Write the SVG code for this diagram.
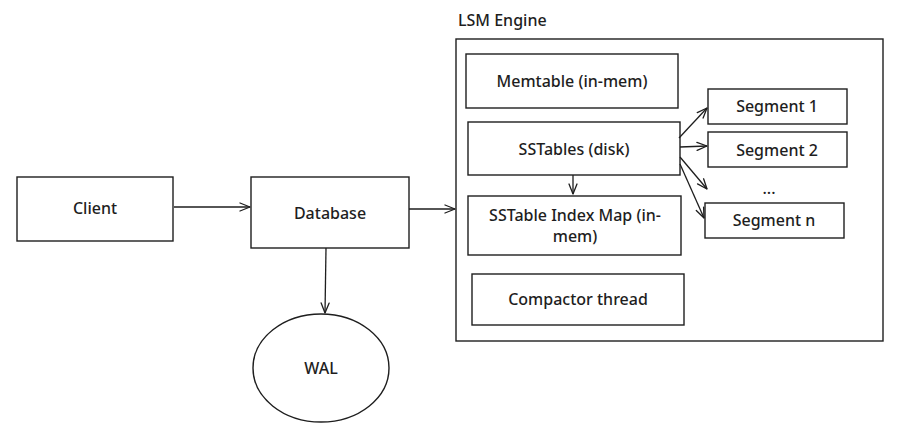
<svg xmlns="http://www.w3.org/2000/svg" width="901" height="436" viewBox="0 0 901 436">
<defs>
<marker id="ah" viewBox="0 0 12 10" refX="11" refY="5" markerWidth="12" markerHeight="10" markerUnits="userSpaceOnUse" orient="auto">
<path d="M1,1 L11,5 L1,9" fill="none" stroke="#1e1e1e" stroke-width="1.3" stroke-linecap="round" stroke-linejoin="round"/>
</marker>
</defs>
<style>
.box{fill:none;stroke:#1e1e1e;stroke-width:1.4}
.t{font-family:"Noto Sans","Open Sans",sans-serif;font-size:16px;font-weight:500;fill:#1e1e1e;text-anchor:middle;dominant-baseline:central}
.c{fill:none;stroke:#1e1e1e;stroke-width:1.3;marker-end:url(#ah)}
</style>
<rect width="901" height="436" fill="#ffffff"/>
<g id="lsm-engine">
<rect class="box" x="456" y="39" width="427" height="302"/>
<text class="t" x="458" y="20" style="text-anchor:start">LSM Engine</text>
</g>
<g id="client">
<rect class="box" x="17" y="177" width="156" height="64"/>
<text class="t" x="95" y="208">Client</text>
</g>
<g id="database">
<rect class="box" x="251" y="177" width="158" height="71"/>
<text class="t" x="330" y="213">Database</text>
</g>
<g id="wal">
<ellipse class="box" cx="321" cy="368" rx="68" ry="54"/>
<text class="t" x="321" y="368">WAL</text>
</g>
<g id="memtable">
<rect class="box" x="466" y="54" width="212" height="54"/>
<text class="t" x="572" y="81">Memtable (in-mem)</text>
</g>
<g id="sstables">
<rect class="box" x="468" y="122" width="212" height="53"/>
<text class="t" x="574" y="149">SSTables (disk)</text>
</g>
<g id="index-map">
<rect class="box" x="468" y="196" width="213" height="59"/>
<text class="t" x="575" y="215">SSTable Index Map (in-</text>
<text class="t" x="575" y="236">mem)</text>
</g>
<g id="compactor">
<rect class="box" x="472" y="274" width="212" height="51"/>
<text class="t" x="578" y="299">Compactor thread</text>
</g>
<g id="segment-1">
<rect class="box" x="708" y="89" width="139" height="35"/>
<text class="t" x="777" y="106">Segment 1</text>
</g>
<g id="segment-2">
<rect class="box" x="708" y="132" width="139" height="35"/>
<text class="t" x="777" y="150">Segment 2</text>
</g>
<g id="ellipsis">
<text class="t" x="769" y="188">...</text>
</g>
<g id="segment-n">
<rect class="box" x="705" y="203" width="139" height="35"/>
<text class="t" x="774" y="220">Segment n</text>
</g>
<g id="connectors">
<path class="c" d="M174,207 L250,207"/>
<path class="c" d="M409,209 L455,209"/>
<path class="c" d="M326,248 L325,313"/>
<path class="c" d="M573,175 L573,194"/>
<path class="c" d="M679,138 L707,108"/>
<path class="c" d="M680,147 L707,146"/>
<path class="c" d="M680,157 L707,189"/>
<path class="c" d="M680,164 L704,218"/>
</g>
</svg>
